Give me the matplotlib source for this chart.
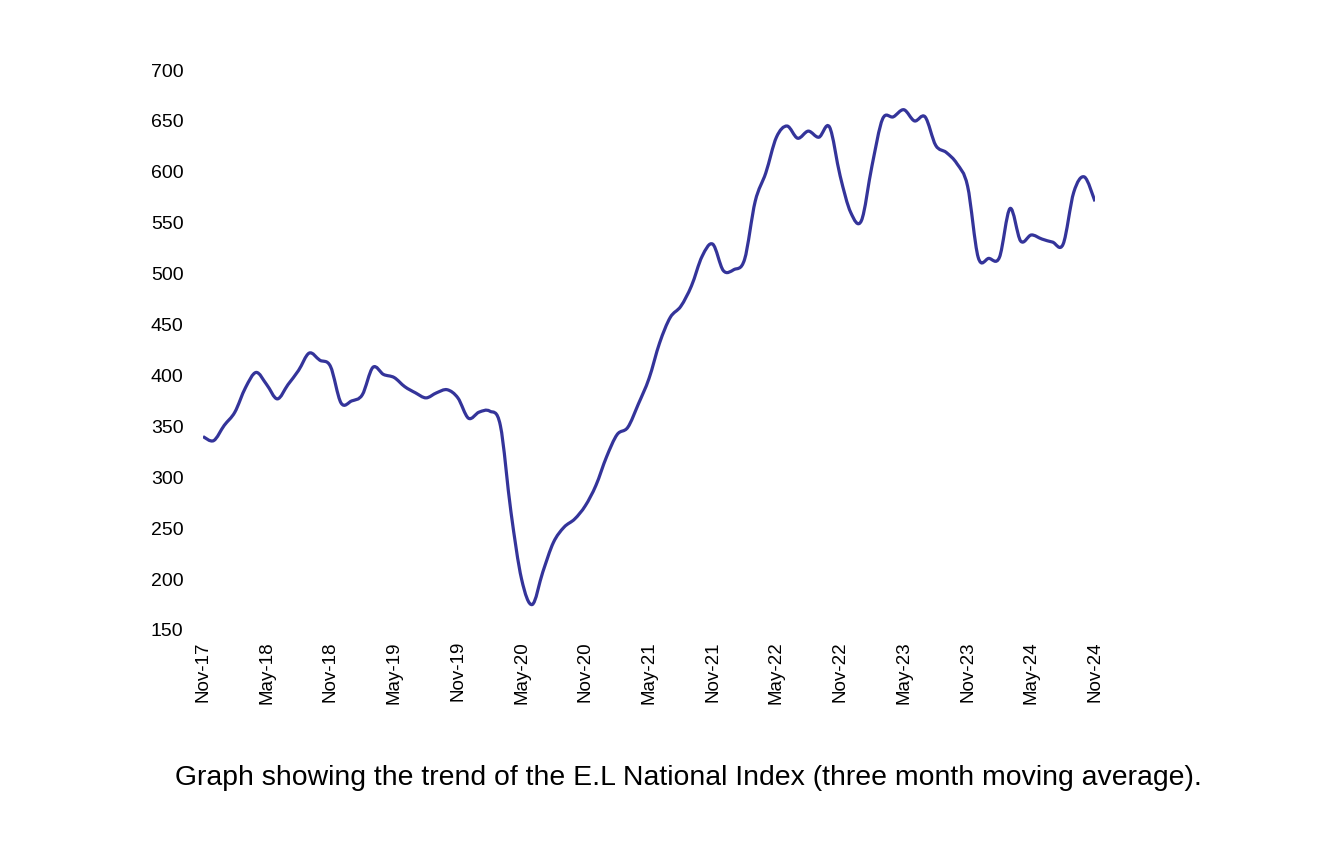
import matplotlib
matplotlib.use("Agg")
import matplotlib.pyplot as plt
from matplotlib.path import Path
from matplotlib.patches import PathPatch

# monthly values, Nov-17 .. Nov-24 (three month moving average)
months = ["Nov-17", "Dec-17", "Jan-18", "Feb-18", "Mar-18", "Apr-18", "May-18", "Jun-18",
          "Jul-18", "Aug-18", "Sep-18", "Oct-18", "Nov-18", "Dec-18", "Jan-19", "Feb-19",
          "Mar-19", "Apr-19", "May-19", "Jun-19", "Jul-19", "Aug-19", "Sep-19", "Oct-19",
          "Nov-19", "Dec-19", "Jan-20", "Feb-20", "Mar-20", "Apr-20", "May-20", "Jun-20",
          "Jul-20", "Aug-20", "Sep-20", "Oct-20", "Nov-20", "Dec-20", "Jan-21", "Feb-21",
          "Mar-21", "Apr-21", "May-21", "Jun-21", "Jul-21", "Aug-21", "Sep-21", "Oct-21",
          "Nov-21", "Dec-21", "Jan-22", "Feb-22", "Mar-22", "Apr-22", "May-22", "Jun-22",
          "Jul-22", "Aug-22", "Sep-22", "Oct-22", "Nov-22", "Dec-22", "Jan-23", "Feb-23",
          "Mar-23", "Apr-23", "May-23", "Jun-23", "Jul-23", "Aug-23", "Sep-23", "Oct-23",
          "Nov-23", "Dec-23", "Jan-24", "Feb-24", "Mar-24", "Apr-24", "May-24", "Jun-24",
          "Jul-24", "Aug-24", "Sep-24", "Oct-24", "Nov-24"]
index_values = [339, 335, 350, 363, 387, 402, 390, 376,
                390, 404, 421, 414, 408, 372, 374, 380,
                407, 400, 397, 388, 382, 377, 382, 385,
                377, 357, 363, 364, 350, 265, 199, 174,
                206, 235, 250, 258, 271, 291, 319, 341,
                348, 371, 396, 431, 456, 467, 487, 516,
                528, 502, 503, 513, 570, 598, 633, 644,
                632, 639, 633, 643, 595, 559, 551, 605,
                651, 653, 660, 649, 653, 625, 618, 607,
                585, 515, 514, 515, 563, 531, 537, 533,
                530, 528, 579, 594, 570]
tick_labels = months[::6]
y_ticks = [150, 200, 250, 300, 350, 400, 450, 500, 550, 600, 650, 700]

x = list(range(len(index_values)))
pts = list(zip(x, index_values))

# smoothed line (like a spreadsheet "smoothed line"), bezier through each point
verts = [pts[0]]
codes = [Path.MOVETO]
n = len(pts)
for i in range(n - 1):
    p0 = pts[i - 1] if i > 0 else pts[i]
    p1 = pts[i]
    p2 = pts[i + 1]
    p3 = pts[i + 2] if i + 2 < n else pts[i + 1]
    c1 = (p1[0] + (p2[0] - p0[0]) / 6, p1[1] + (p2[1] - p0[1]) / 6)
    c2 = (p2[0] - (p3[0] - p1[0]) / 6, p2[1] - (p3[1] - p1[1]) / 6)
    verts += [c1, c2, p2]
    codes += [Path.CURVE4] * 3

fig = plt.figure(figsize=(13.42, 8.62), dpi=100)
ax = fig.add_axes([203 / 1342, 232 / 862, 892 / 1342, 560 / 862])
ax.add_patch(PathPatch(Path(verts, codes), facecolor="none", edgecolor="#34349a",
                       linewidth=2.3, capstyle="butt", joinstyle="round"))
ax.set_xlim(0, len(index_values) - 1)
ax.set_ylim(150, 700)

ax.set_xticks(x[::6])
ax.set_xticklabels(tick_labels, rotation=90, fontsize=13.5, family="Liberation Sans")
ax.set_yticks(y_ticks)
ax.set_yticklabels([str(v) for v in y_ticks], fontsize=14, family="Liberation Sans")
ax.tick_params(axis="both", length=0)
ax.tick_params(axis="y", pad=14)
ax.tick_params(axis="x", pad=8)
for s in ax.spines.values():
    s.set_visible(False)

fig.text(688 / 1342, 1 - 778 / 862,
         "Graph showing the trend of the E.L National Index (three month moving average).",
         ha="center", va="center", fontsize=20.4, family="Liberation Sans")

fig.savefig("out.png", dpi=100)
